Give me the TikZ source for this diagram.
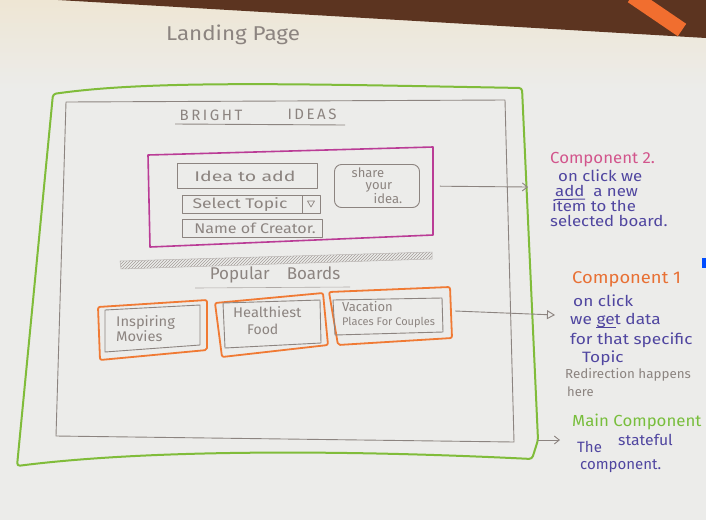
\documentclass[tikz,border=0pt]{standalone}
\usepackage{fontspec}
\setmainfont{Fira Sans}
\usetikzlibrary{patterns,arrows.meta,calc}
\definecolor{pencil}{RGB}{140,132,128}
\definecolor{lime}{RGB}{128,188,58}
\definecolor{magen}{RGB}{186,60,150}
\definecolor{orng}{RGB}{240,122,52}
\definecolor{ink}{RGB}{80,70,160}
\definecolor{pinkink}{RGB}{210,85,140}
\definecolor{orink}{RGB}{232,112,52}
\definecolor{grink}{RGB}{120,190,60}
\definecolor{paper}{RGB}{236,236,234}
\definecolor{paperw}{RGB}{238,230,212}
\definecolor{wood}{RGB}{92,52,32}
\newcommand\hsz[2]{\fontsize{#1}{#2}\selectfont}
\newcommand\hw[2]{\scalebox{#1}[1]{#2}}
\tikzset{
  pen/.style={pencil, line width=0.9pt, line join=round},
  gbox/.style={lime, line width=2pt, line join=round, rounded corners=3pt},
  mbox/.style={magen, line width=1.6pt, line join=round},
  obox/.style={orng, line width=1.8pt, line join=round, rounded corners=2pt},
  ptext/.style={text=pencil, inner sep=1pt},
  pwest/.style={text=pencil, inner sep=0pt, anchor=west},
  itext/.style={text=ink, inner sep=0pt, anchor=west},
  uline/.style={ink, line width=1pt},
  arr/.style={pencil, line width=0.9pt, -{Straight Barb[length=5pt,width=8pt]}},
  arrT/.style={pencil, line width=0.9pt, -{Triangle[open,length=8pt,width=9pt]}}
}
\begin{document}
\begin{tikzpicture}[x=1pt,y=-1pt]
\useasboundingbox (0,0) rectangle (706,520);
% background: paper, table, pen
\fill[paper] (0,0) rectangle (706,520);
\shade[top color=paperw, bottom color=paper] (0,0) rectangle (706,90);
\fill[wood] (58,0) -- (706,0) -- (706,38) -- cycle;
\draw[orng!90!red, line width=15pt] (632,-4) -- (682,30);
\fill[blue!70!cyan] (702,258) rectangle (706,268);

% title
\node[ptext, font=\hsz{20}{24}] (title) at (233,35) {\hw{1.12}{Landing Page}};

% main component frame (green)
\draw[gbox] (53,94) .. controls (150,80) and (300,84) .. (522,88)
  -- (538,440) -- (532,459)
  .. controls (350,450) and (150,449) .. (17,466) -- cycle;
\coordinate (mainR) at (538,440);
% inner pencil frame
\draw[pen] (66,102) -- (505,100) -- (514,442) -- (56,436) -- cycle;

% header
\node[ptext, font=\hsz{15}{18}] (bright) at (211,115) {B\,R\,I\,G\,H\,T};
\node[ptext, font=\hsz{15}{18}] (ideas) at (312,114) {I\,D\,E\,A\,S};
\draw[pen] (175,124) -- (345,125);

% component 2 (magenta)
\draw[mbox] (148,155) -- (433,147) -- (433,235) -- (150,247) -- cycle;
\draw[pen] (177,163) rectangle (317,188);
\node[ptext, font=\hsz{14}{16}] (idea) at (245,176) {\hw{1.4}{Idea to add}};
\draw[pen] (182,195) rectangle (320,213);
\draw[pen] (302,195) -- (302,213);
\node[ptext, font=\hsz{14}{16}] (topic) at (240,205) {\hw{1.25}{Select Topic}};
\coordinate (tri) at (311,204);
\draw[pen, line width=0.7pt] ($(tri)+(-3.5,-3)$) -- ($(tri)+(3.5,-3)$) -- ($(tri)+(0,3)$) -- cycle;
\draw[pen] (182,219) rectangle (322,237);
\node[ptext, font=\hsz{14}{16}] (creator) at (255,228) {\hw{1.15}{Name of Creator.}};
\node[draw=pencil, line width=0.9pt, rounded corners=7pt, minimum width=85pt,
      minimum height=43pt, text=pencil, align=left, font=\hsz{13}{12}]
      (share) at (377,186) {share\\\hspace*{14pt}your\\\hspace*{22pt}idea.};
\coordinate (c2tip) at (528,187);
\draw[arr, shorten <=20pt] (share.east) -- (c2tip);

% hatched divider
\fill[pattern=north east lines, pattern color=pencil!80] (120,261) -- (432,252) -- (432,259) -- (121,269) -- cycle;
\draw[pencil!60, line width=0.5pt] (120,261) -- (432,252) -- (432,259) -- (121,269) -- cycle;

% popular boards
\node[ptext, font=\hsz{17}{20}] (popular) at (275,275) {Popular\quad Boards};
\draw[pencil!70, line width=0.6pt] (195,288) -- (350,287);

% board 1
\draw[obox] (98,307) -- (207,300) -- (207,350) -- (100,360) -- cycle;
\draw[pen] (105,310) -- (200,305) -- (200,345) -- (105,352) -- cycle;
\node[pwest, align=left, font=\hsz{14}{15}] (b1) at (116,329) {\hw{1.05}{Inspiring}\\\hw{1.05}{Movies}};
% board 2
\draw[obox] (215,303) -- (323,293) -- (328,345) -- (222,357) -- cycle;
\draw[pen] (223,303) -- (320,300) -- (321,343) -- (225,348) -- cycle;
\node[pwest, align=left, font=\hsz{14}{17}] (b2) at (233,321) {\hw{1.05}{Healthiest}\\\hspace*{14pt}Food};
% board 3
\draw[obox] (329,292) -- (450,287) -- (452,338) -- (338,345) -- cycle;
\draw[pen] (333,300) -- (442,298) -- (443,332) -- (335,335) -- cycle;
\node[pwest, align=left, font=\hsz{11}{14}] (b3) at (342,315) {{\hsz{13}{14}Vacation}\\Places For Couples};
\coordinate (c1tip) at (555,315);
\draw[arrT] ([xshift=20pt,yshift=4pt]b3.east) -- (c1tip);

% main arrow
\coordinate (maintip) at (560,440);
\draw[arr] (mainR) -- (maintip);

% notes: component 2
\node[itext, text=pinkink, font=\hsz{16}{18}] (n2a) at (550,160) {\hw{1.05}{Component 2.}};
\node[itext, font=\hsz{15}{16}] (n2b) at (558,176) {\hw{1.12}{on click we}};
\node[itext, font=\hsz{15}{16}] (n2c) at (555,191) {\hw{1.12}{add\ \ a new}};
\draw[uline] ($(n2c.base west)+(0,3)$) -- ++(30,-0.5);
\node[itext, font=\hsz{15}{16}] (n2d) at (552,206) {\hw{1.12}{item to the}};
\node[itext, font=\hsz{15}{16}] (n2e) at (550,221) {\hw{1.12}{selected board.}};

% notes: component 1
\node[itext, text=orink, font=\hsz{17}{19}] (n1a) at (572,279) {\hw{1.08}{Component 1}};
\node[itext, font=\hsz{15}{16}] (n1b) at (573,301) {\hw{1.15}{on click}};
\node[itext, font=\hsz{15}{16}] (n1c) at (570,320) {\hw{1.15}{we\ get data}};
\draw[uline] ($(n1c.base west)+(26,3)$) -- ++(20,0);
\node[itext, font=\hsz{15}{16}] (n1d) at (570,340) {\hw{1.15}{for that specific}};
\node[itext, font=\hsz{15}{16}] (n1e) at (582,358) {\hw{1.15}{Topic}};
\node[itext, text=pencil, font=\hsz{13}{15}] (n1f) at (565,375) {\hw{1.03}{Redirection happens}};
\node[itext, text=pencil, font=\hsz{13}{15}] (n1g) at (567,392) {here};

% notes: main component
\node[itext, text=grink, font=\hsz{16}{18}] (nma) at (572,422) {\hw{1.05}{Main Component}};
\node[itext, font=\hsz{15}{16}] (nmb) at (577,447) {The};
\node[itext, font=\hsz{15}{16}] (nmc) at (618,440) {\hw{1.05}{stateful}};
\node[itext, font=\hsz{15}{16}] (nmd) at (580,466) {component.};
\end{tikzpicture}
\end{document}
